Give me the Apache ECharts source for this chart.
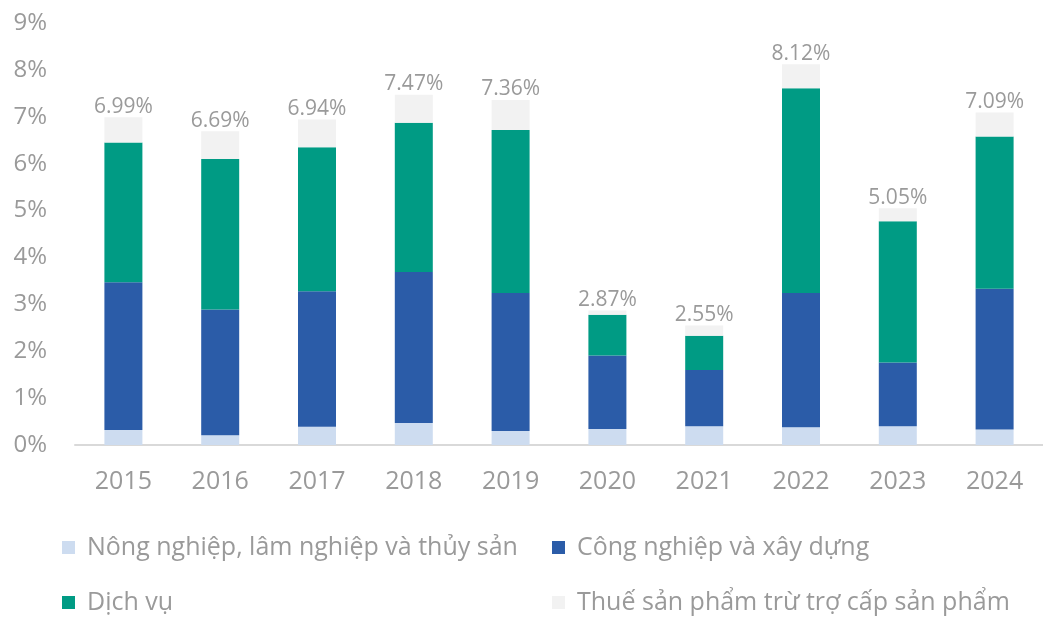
<!DOCTYPE html>
<html>
<head>
<meta charset="utf-8">
<script src="https://cdn.jsdelivr.net/npm/echarts@6/dist/echarts.min.js"></script>
<style>
  html, body { margin: 0; padding: 0; background: #fff; }
  #chart { width: 1043px; height: 618px; }
</style>
</head>
<body>
<div id="chart"></div>
<script>
// số liệu
var years = ['2015', '2016', '2017', '2018', '2019', '2020', '2021', '2022', '2023', '2024'];
var nongNghiep = [0.32, 0.21, 0.39, 0.47, 0.30, 0.34, 0.40, 0.38, 0.40, 0.33];
var congNghiep = [3.15, 2.68, 2.89, 3.22, 2.94, 1.57, 1.20, 2.86, 1.36, 3.00];
var dichVu = [2.98, 3.21, 3.07, 3.18, 3.48, 0.87, 0.73, 4.37, 3.01, 3.25];
var thue = [0.54, 0.59, 0.59, 0.60, 0.64, 0.09, 0.22, 0.51, 0.28, 0.51];
var tongGDP = [6.99, 6.69, 6.94, 7.47, 7.36, 2.87, 2.55, 8.12, 5.05, 7.09];
var yTicks = [0, 1, 2, 3, 4, 5, 6, 7, 8, 9];

var seriesNames = [
  'Nông nghiệp, lâm nghiệp và thủy sản',
  'Công nghiệp và xây dựng',
  'Dịch vụ',
  'Thuế sản phẩm trừ trợ cấp sản phẩm'
];
var colors = ['#cddcf0', '#2b5ca8', '#009b84', '#f2f2f2'];
var font = 'Open Sans';
var grayText = '#9a9a9a';

(function(){
  var myChart = echarts.init(document.getElementById('chart'));

  function legendAt(name, left, top) {
    return {
      data: [name],
      left: left,
      top: top,
      padding: 0,
      icon: 'rect',
      itemWidth: 13,
      itemHeight: 13,
      selectedMode: false,
      textStyle: { fontFamily: font, fontSize: 25, color: grayText, padding: [0, 0, 0, 7] }
    };
  }

  var option = {
    animation: false,
    color: colors,
    grid: { left: 75, right: -8, top: 23, bottom: 173 },
    legend: [
      legendAt(seriesNames[0], 62, 535),
      legendAt(seriesNames[1], 552, 535),
      legendAt(seriesNames[2], 62, 590),
      legendAt(seriesNames[3], 552, 590)
    ],
    xAxis: {
      type: 'category',
      data: years,
      axisLine: { lineStyle: { color: '#d9d9d9', width: 2 } },
      axisTick: { show: false },
      axisLabel: { fontFamily: font, fontSize: 25, color: grayText, margin: 24 }
    },
    yAxis: {
      type: 'value',
      min: yTicks[0],
      max: yTicks[yTicks.length - 1],
      interval: 1,
      splitLine: { show: false },
      axisLine: { show: false },
      axisLabel: {
        fontFamily: font, fontSize: 24, color: grayText, margin: 28,
        formatter: function (v) { return v + '%'; }
      }
    },
    series: [
      { name: seriesNames[0], type: 'bar', stack: 'gdp', barWidth: 38, data: nongNghiep },
      { name: seriesNames[1], type: 'bar', stack: 'gdp', data: congNghiep },
      { name: seriesNames[2], type: 'bar', stack: 'gdp', data: dichVu },
      {
        name: seriesNames[3], type: 'bar', stack: 'gdp', data: thue,
        label: {
          show: true, position: 'top', distance: 0,
          fontFamily: font, fontSize: 21, color: grayText,
          formatter: function (p) { return tongGDP[p.dataIndex].toFixed(2) + '%'; }
        }
      }
    ]
  };
  myChart.setOption(option);
})();
</script>
</body>
</html>
